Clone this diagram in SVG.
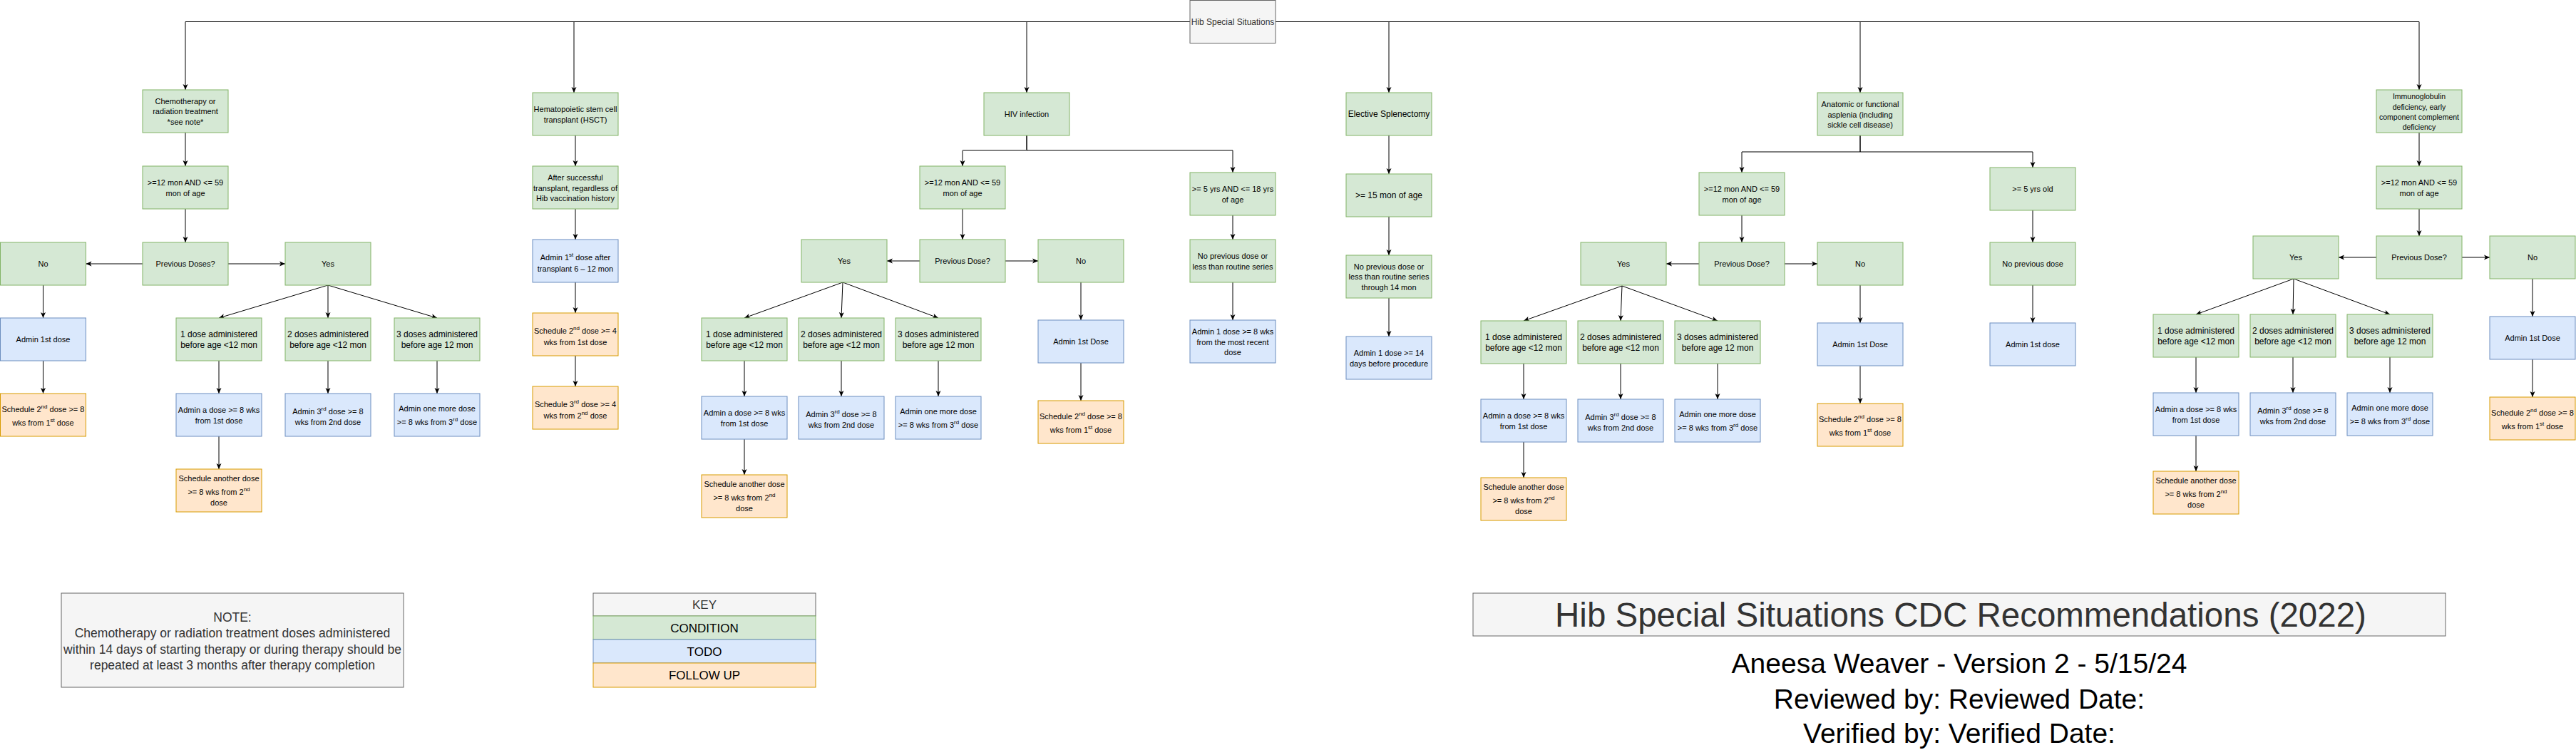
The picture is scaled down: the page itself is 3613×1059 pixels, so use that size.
<svg xmlns="http://www.w3.org/2000/svg" width="3613" height="1059" viewBox="0 0 3613 1059">
<style>
rect{stroke-width:1}
.g{fill:#d5e8d4;stroke:#82b366}
.b{fill:#dae8fc;stroke:#6c8ebf}
.o{fill:#ffe6cc;stroke:#d79b00}
.n{fill:#f5f5f5;stroke:#666666}
text{font-family:"Liberation Sans",Arial,sans-serif;text-anchor:middle;fill:#000}
.f10{font-size:10.5px}.f11{font-size:11px}.f12{font-size:12px}
.gr{fill:#333333}
.sp{font-size:8px}
.e{fill:none;stroke:#000;stroke-width:1;marker-end:url(#a)}
</style>
<defs>
<marker id="a" viewBox="0 0 8 8" refX="8" refY="4" markerWidth="8" markerHeight="8" orient="auto" markerUnits="userSpaceOnUse"><path d="M0,0.5 L8,4 L0,7.5 L2,4 z" fill="#000"/></marker>
</defs>
<rect width="3613" height="1059" fill="#ffffff"/>

<g id="connectors">
<path class="e" d="M1669,30.5 H260 V126"/>
<path class="e" d="M1669,30.5 H805 V130"/>
<path class="e" d="M1669,30.5 H1440 V130"/>
<path class="e" d="M1789,30.5 H1948 V130"/>
<path class="e" d="M1789,30.5 H2609 V130"/>
<path class="e" d="M1789,30.5 H3393 V126"/>
<path class="e" d="M260,186 V233"/>
<path class="e" d="M260,293 V340"/>
<path class="e" d="M200,370 H120.5"/>
<path class="e" d="M320,370 H400"/>
<path class="e" d="M60.5,400 V446"/>
<path class="e" d="M60.5,506 V552"/>
<path class="e" d="M460,400 L307,446"/>
<path class="e" d="M460,400 V446"/>
<path class="e" d="M460,400 L613,446"/>
<path class="e" d="M307,506 V552"/>
<path class="e" d="M460,506 V552"/>
<path class="e" d="M613,506 V552"/>
<path class="e" d="M307,612 V658"/>
<path class="e" d="M807,190 V233"/>
<path class="e" d="M807,293 V336"/>
<path class="e" d="M807,396 V439"/>
<path class="e" d="M807,499 V542"/>
<path class="e" d="M1440,190 V211 H1350 V233"/>
<path class="e" d="M1440,190 V211 H1729 V242"/>
<path d="M1350,211 H1440" fill="none" stroke="#808080" stroke-width="2"/>
<path class="e" d="M1350,293 V336"/>
<path class="e" d="M1290,366 H1244"/>
<path class="e" d="M1410,366 H1456"/>
<path class="e" d="M1182,396 L1044,446"/>
<path class="e" d="M1182,396 L1180,446"/>
<path class="e" d="M1182,396 L1316,446"/>
<path class="e" d="M1044,506 V556"/>
<path class="e" d="M1180,506 V556"/>
<path class="e" d="M1316,506 V556"/>
<path class="e" d="M1044,616 V666"/>
<path class="e" d="M1516,396 V449"/>
<path class="e" d="M1516,509 V562"/>
<path class="e" d="M1729,302 V336"/>
<path class="e" d="M1729,396 V449"/>
<path class="e" d="M1948,190 V244"/>
<path class="e" d="M1948,304 V358"/>
<path class="e" d="M1948,418 V472"/>
<path class="e" d="M2609,190 V213 H2443 V242"/>
<path class="e" d="M2609,190 V213 H2851 V235"/>
<path class="e" d="M2443,302 V340"/>
<path class="e" d="M2383,370 H2337"/>
<path class="e" d="M2503,370 H2549"/>
<path class="e" d="M2275,401 L2137,450"/>
<path class="e" d="M2275,401 L2273,450"/>
<path class="e" d="M2275,401 L2409,450"/>
<path class="e" d="M2137,510 V560"/>
<path class="e" d="M2273,510 V560"/>
<path class="e" d="M2409,510 V560"/>
<path class="e" d="M2137,620 V670"/>
<path class="e" d="M2609,400 V453"/>
<path class="e" d="M2609,513 V566"/>
<path class="e" d="M2851,295 V340"/>
<path class="e" d="M2851,400 V453"/>
<path class="e" d="M3393,186 V233"/>
<path class="e" d="M3393,293 V331"/>
<path class="e" d="M3333,361 H3280"/>
<path class="e" d="M3453,361 H3492"/>
<path class="e" d="M3217,391 L3080,441"/>
<path class="e" d="M3217,391 L3216,441"/>
<path class="e" d="M3217,391 L3352,441"/>
<path class="e" d="M3080,501 V551"/>
<path class="e" d="M3216,501 V551"/>
<path class="e" d="M3352,501 V551"/>
<path class="e" d="M3080,611 V661"/>
<path class="e" d="M3552,391 V444"/>
<path class="e" d="M3552,504 V557"/>
</g>

<g id="root"><rect class="n" x="1669" y="0.5" width="120" height="60"/><text class="f12 gr" x="1729" y="34.5">Hib Special Situations</text></g>

<!-- Branch 1: Chemotherapy -->
<g id="chemo"><rect class="g" x="200" y="126" width="120" height="60"/><text class="f11"><tspan x="260" y="145.5">Chemotherapy or</tspan><tspan x="260" y="160">radiation treatment</tspan><tspan x="260" y="174.5">*see note*</tspan></text></g>
<g id="chemo-age"><rect class="g" x="200" y="233" width="120" height="60"/><text class="f11"><tspan x="260" y="259.5">&gt;=12 mon AND &lt;= 59</tspan><tspan x="260" y="274.5">mon of age</tspan></text></g>
<g id="chemo-prev"><rect class="g" x="200" y="340" width="120" height="60"/><text class="f11" x="260" y="374">Previous Doses?</text></g>
<g id="chemo-no"><rect class="g" x="0.5" y="340" width="120" height="60"/><text class="f11" x="60.5" y="374">No</text></g>
<g id="chemo-yes"><rect class="g" x="400" y="340" width="120" height="60"/><text class="f11" x="460" y="374">Yes</text></g>
<g id="chemo-admin1"><rect class="b" x="0.5" y="446" width="120" height="60"/><text class="f11" x="60.5" y="480">Admin 1st dose</text></g>
<g id="chemo-sched2"><rect class="o" x="0.5" y="552" width="120" height="60"/><text class="f11"><tspan x="60.5" y="578">Schedule 2<tspan class="sp" dy="-5">nd</tspan><tspan dy="5"> dose &gt;= 8</tspan></tspan><tspan x="60.5" y="597">wks from 1<tspan class="sp" dy="-5">st</tspan><tspan dy="5">  dose</tspan></tspan></text></g>
<g id="chemo-d1"><rect class="g" x="247" y="446" width="120" height="60"/><text class="f12"><tspan x="307" y="472.5">1 dose administered</tspan><tspan x="307" y="487.5">before age &lt;12 mon</tspan></text></g>
<g id="chemo-d2"><rect class="g" x="400" y="446" width="120" height="60"/><text class="f12"><tspan x="460" y="472.5">2 doses administered</tspan><tspan x="460" y="487.5">before age &lt;12 mon</tspan></text></g>
<g id="chemo-d3"><rect class="g" x="553" y="446" width="120" height="60"/><text class="f12"><tspan x="613" y="472.5">3 doses administered</tspan><tspan x="613" y="487.5">before age 12 mon</tspan></text></g>
<g id="chemo-a1"><rect class="b" x="247" y="552" width="120" height="60"/><text class="f11"><tspan x="307" y="578.5">Admin a dose &gt;= 8 wks</tspan><tspan x="307" y="593.5">from 1st dose</tspan></text></g>
<g id="chemo-a2"><rect class="b" x="400" y="552" width="120" height="60"/><text class="f11"><tspan x="460" y="581">Admin 3<tspan class="sp" dy="-5">rd</tspan><tspan dy="5">  dose &gt;= 8</tspan></tspan><tspan x="460" y="596">wks from 2nd dose</tspan></text></g>
<g id="chemo-a3"><rect class="b" x="553" y="552" width="120" height="60"/><text class="f11"><tspan x="613" y="577">Admin one more dose</tspan><tspan x="613" y="596">&gt;= 8 wks from 3<tspan class="sp" dy="-5">rd</tspan><tspan dy="5"> dose</tspan></tspan></text></g>
<g id="chemo-s1"><rect class="o" x="247" y="658" width="120" height="60"/><text class="f11"><tspan x="307" y="675">Schedule another dose</tspan><tspan x="307" y="694">&gt;= 8 wks from 2<tspan class="sp" dy="-5">nd</tspan></tspan><tspan x="307" y="709">dose</tspan></text></g>

<!-- Branch 2: HSCT -->
<g id="hsct"><rect class="g" x="747" y="130" width="120" height="60"/><text class="f11"><tspan x="807" y="156.5">Hematopoietic stem cell</tspan><tspan x="807" y="171.5">transplant (HSCT)</tspan></text></g>
<g id="hsct-after"><rect class="g" x="747" y="233" width="120" height="60"/><text class="f11"><tspan x="807" y="253">After successful</tspan><tspan x="807" y="267.5">transplant, regardless of</tspan><tspan x="807" y="282">Hib vaccination history</tspan></text></g>
<g id="hsct-admin"><rect class="b" x="747" y="336" width="120" height="60"/><text class="f11"><tspan x="807" y="365">Admin 1<tspan class="sp" dy="-5">st</tspan><tspan dy="5"> dose after</tspan></tspan><tspan x="807" y="380.5">transplant 6 – 12 mon</tspan></text></g>
<g id="hsct-sched2"><rect class="o" x="747" y="439" width="120" height="60"/><text class="f11"><tspan x="807" y="468">Schedule 2<tspan class="sp" dy="-5">nd</tspan><tspan dy="5"> dose &gt;= 4</tspan></tspan><tspan x="807" y="483.5">wks from 1st dose</tspan></text></g>
<g id="hsct-sched3"><rect class="o" x="747" y="542" width="120" height="60"/><text class="f11"><tspan x="807" y="571">Schedule 3<tspan class="sp" dy="-5">rd</tspan><tspan dy="5"> dose &gt;= 4</tspan></tspan><tspan x="807" y="586.5">wks from 2<tspan class="sp" dy="-5">nd</tspan><tspan dy="5"> dose</tspan></tspan></text></g>

<!-- Branch 3: HIV -->
<g id="hiv"><rect class="g" x="1380" y="130" width="120" height="60"/><text class="f11" x="1440" y="164">HIV infection</text></g>
<g id="hiv-age"><rect class="g" x="1290" y="233" width="120" height="60"/><text class="f11"><tspan x="1350" y="259.5">&gt;=12 mon AND &lt;= 59</tspan><tspan x="1350" y="274.5">mon of age</tspan></text></g>
<g id="hiv-prev"><rect class="g" x="1290" y="336" width="120" height="60"/><text class="f11" x="1350" y="370">Previous Dose?</text></g>
<g id="hiv-yes"><rect class="g" x="1124" y="336" width="120" height="60"/><text class="f11" x="1184" y="370">Yes</text></g>
<g id="hiv-no"><rect class="g" x="1456" y="336" width="120" height="60"/><text class="f11" x="1516" y="370">No</text></g>
<g id="hiv-d1"><rect class="g" x="984" y="446" width="120" height="60"/><text class="f12"><tspan x="1044" y="472.5">1 dose administered</tspan><tspan x="1044" y="487.5">before age &lt;12 mon</tspan></text></g>
<g id="hiv-d2"><rect class="g" x="1120" y="446" width="120" height="60"/><text class="f12"><tspan x="1180" y="472.5">2 doses administered</tspan><tspan x="1180" y="487.5">before age &lt;12 mon</tspan></text></g>
<g id="hiv-d3"><rect class="g" x="1256" y="446" width="120" height="60"/><text class="f12"><tspan x="1316" y="472.5">3 doses administered</tspan><tspan x="1316" y="487.5">before age 12 mon</tspan></text></g>
<g id="hiv-a1"><rect class="b" x="984" y="556" width="120" height="60"/><text class="f11"><tspan x="1044" y="582.5">Admin a dose &gt;= 8 wks</tspan><tspan x="1044" y="597.5">from 1st dose</tspan></text></g>
<g id="hiv-a2"><rect class="b" x="1120" y="556" width="120" height="60"/><text class="f11"><tspan x="1180" y="585">Admin 3<tspan class="sp" dy="-5">rd</tspan><tspan dy="5">  dose &gt;= 8</tspan></tspan><tspan x="1180" y="600">wks from 2nd dose</tspan></text></g>
<g id="hiv-a3"><rect class="b" x="1256" y="556" width="120" height="60"/><text class="f11"><tspan x="1316" y="581">Admin one more dose</tspan><tspan x="1316" y="600">&gt;= 8 wks from 3<tspan class="sp" dy="-5">rd</tspan><tspan dy="5"> dose</tspan></tspan></text></g>
<g id="hiv-s1"><rect class="o" x="984" y="666" width="120" height="60"/><text class="f11"><tspan x="1044" y="683">Schedule another dose</tspan><tspan x="1044" y="702">&gt;= 8 wks from 2<tspan class="sp" dy="-5">nd</tspan></tspan><tspan x="1044" y="717">dose</tspan></text></g>
<g id="hiv-admin1"><rect class="b" x="1456" y="449" width="120" height="60"/><text class="f11" x="1516" y="483">Admin 1st Dose</text></g>
<g id="hiv-sched2"><rect class="o" x="1456" y="562" width="120" height="60"/><text class="f11"><tspan x="1516" y="588">Schedule 2<tspan class="sp" dy="-5">nd</tspan><tspan dy="5"> dose &gt;= 8</tspan></tspan><tspan x="1516" y="607">wks from 1<tspan class="sp" dy="-5">st</tspan><tspan dy="5">  dose</tspan></tspan></text></g>
<g id="hiv-age5"><rect class="g" x="1669" y="242" width="120" height="60"/><text class="f11"><tspan x="1729" y="268.5">&gt;= 5 yrs AND &lt;= 18 yrs</tspan><tspan x="1729" y="283.5">of age</tspan></text></g>
<g id="hiv-noprev"><rect class="g" x="1669" y="336" width="120" height="60"/><text class="f11"><tspan x="1729" y="362.5">No previous dose or</tspan><tspan x="1729" y="377.5">less than routine series</tspan></text></g>
<g id="hiv-admin5"><rect class="b" x="1669" y="449" width="120" height="60"/><text class="f11"><tspan x="1729" y="469">Admin 1 dose &gt;= 8 wks</tspan><tspan x="1729" y="483.5">from the most recent</tspan><tspan x="1729" y="498">dose</tspan></text></g>

<!-- Branch 4: Elective Splenectomy -->
<g id="elective"><rect class="g" x="1888" y="130" width="120" height="60"/><text class="f12" x="1948" y="164">Elective Splenectomy</text></g>
<g id="elective-age"><rect class="g" x="1888" y="244" width="120" height="60"/><text class="f12" x="1948" y="278">&gt;= 15 mon of age</text></g>
<g id="elective-noprev"><rect class="g" x="1888" y="358" width="120" height="60"/><text class="f11"><tspan x="1948" y="377.5">No previous dose or</tspan><tspan x="1948" y="392">less than routine series</tspan><tspan x="1948" y="406.5">through 14 mon</tspan></text></g>
<g id="elective-admin"><rect class="b" x="1888" y="472" width="120" height="60"/><text class="f11"><tspan x="1948" y="498.5">Admin 1 dose &gt;= 14</tspan><tspan x="1948" y="513.5">days before procedure</tspan></text></g>

<!-- Branch 5: Asplenia -->
<g id="asplenia"><rect class="g" x="2549" y="130" width="120" height="60"/><text class="f11"><tspan x="2609" y="150">Anatomic or functional</tspan><tspan x="2609" y="164.5">asplenia (including</tspan><tspan x="2609" y="179">sickle cell disease)</tspan></text></g>
<g id="asp-age"><rect class="g" x="2383" y="242" width="120" height="60"/><text class="f11"><tspan x="2443" y="268.5">&gt;=12 mon AND &lt;= 59</tspan><tspan x="2443" y="283.5">mon of age</tspan></text></g>
<g id="asp-prev"><rect class="g" x="2383" y="340" width="120" height="60"/><text class="f11" x="2443" y="374">Previous Dose?</text></g>
<g id="asp-yes"><rect class="g" x="2217" y="340" width="120" height="60"/><text class="f11" x="2277" y="374">Yes</text></g>
<g id="asp-no"><rect class="g" x="2549" y="340" width="120" height="60"/><text class="f11" x="2609" y="374">No</text></g>
<g id="asp-d1"><rect class="g" x="2077" y="450" width="120" height="60"/><text class="f12"><tspan x="2137" y="476.5">1 dose administered</tspan><tspan x="2137" y="491.5">before age &lt;12 mon</tspan></text></g>
<g id="asp-d2"><rect class="g" x="2213" y="450" width="120" height="60"/><text class="f12"><tspan x="2273" y="476.5">2 doses administered</tspan><tspan x="2273" y="491.5">before age &lt;12 mon</tspan></text></g>
<g id="asp-d3"><rect class="g" x="2349" y="450" width="120" height="60"/><text class="f12"><tspan x="2409" y="476.5">3 doses administered</tspan><tspan x="2409" y="491.5">before age 12 mon</tspan></text></g>
<g id="asp-a1"><rect class="b" x="2077" y="560" width="120" height="60"/><text class="f11"><tspan x="2137" y="586.5">Admin a dose &gt;= 8 wks</tspan><tspan x="2137" y="601.5">from 1st dose</tspan></text></g>
<g id="asp-a2"><rect class="b" x="2213" y="560" width="120" height="60"/><text class="f11"><tspan x="2273" y="589">Admin 3<tspan class="sp" dy="-5">rd</tspan><tspan dy="5">  dose &gt;= 8</tspan></tspan><tspan x="2273" y="604">wks from 2nd dose</tspan></text></g>
<g id="asp-a3"><rect class="b" x="2349" y="560" width="120" height="60"/><text class="f11"><tspan x="2409" y="585">Admin one more dose</tspan><tspan x="2409" y="604">&gt;= 8 wks from 3<tspan class="sp" dy="-5">rd</tspan><tspan dy="5"> dose</tspan></tspan></text></g>
<g id="asp-s1"><rect class="o" x="2077" y="670" width="120" height="60"/><text class="f11"><tspan x="2137" y="687">Schedule another dose</tspan><tspan x="2137" y="706">&gt;= 8 wks from 2<tspan class="sp" dy="-5">nd</tspan></tspan><tspan x="2137" y="721">dose</tspan></text></g>
<g id="asp-admin1"><rect class="b" x="2549" y="453" width="120" height="60"/><text class="f11" x="2609" y="487">Admin 1st Dose</text></g>
<g id="asp-sched2"><rect class="o" x="2549" y="566" width="120" height="60"/><text class="f11"><tspan x="2609" y="592">Schedule 2<tspan class="sp" dy="-5">nd</tspan><tspan dy="5"> dose &gt;= 8</tspan></tspan><tspan x="2609" y="611">wks from 1<tspan class="sp" dy="-5">st</tspan><tspan dy="5">  dose</tspan></tspan></text></g>
<g id="asp-age5"><rect class="g" x="2791" y="235" width="120" height="60"/><text class="f11" x="2851" y="269">&gt;= 5 yrs old</text></g>
<g id="asp-noprev"><rect class="g" x="2791" y="340" width="120" height="60"/><text class="f11" x="2851" y="374">No previous dose</text></g>
<g id="asp-admin5"><rect class="b" x="2791" y="453" width="120" height="60"/><text class="f11" x="2851" y="487">Admin 1st dose</text></g>

<!-- Branch 6: Immunoglobulin -->
<g id="immuno"><rect class="g" x="3333" y="126" width="120" height="60"/><text class="f10"><tspan x="3393" y="139">Immunoglobulin</tspan><tspan x="3393" y="153.5">deficiency, early</tspan><tspan x="3393" y="168">component complement</tspan><tspan x="3393" y="182">deficiency</tspan></text></g>
<g id="imm-age"><rect class="g" x="3333" y="233" width="120" height="60"/><text class="f11"><tspan x="3393" y="259.5">&gt;=12 mon AND &lt;= 59</tspan><tspan x="3393" y="274.5">mon of age</tspan></text></g>
<g id="imm-prev"><rect class="g" x="3333" y="331" width="120" height="60"/><text class="f11" x="3393" y="365">Previous Dose?</text></g>
<g id="imm-yes"><rect class="g" x="3160" y="331" width="120" height="60"/><text class="f11" x="3220" y="365">Yes</text></g>
<g id="imm-no"><rect class="g" x="3492" y="331" width="120" height="60"/><text class="f11" x="3552" y="365">No</text></g>
<g id="imm-d1"><rect class="g" x="3020" y="441" width="120" height="60"/><text class="f12"><tspan x="3080" y="467.5">1 dose administered</tspan><tspan x="3080" y="482.5">before age &lt;12 mon</tspan></text></g>
<g id="imm-d2"><rect class="g" x="3156" y="441" width="120" height="60"/><text class="f12"><tspan x="3216" y="467.5">2 doses administered</tspan><tspan x="3216" y="482.5">before age &lt;12 mon</tspan></text></g>
<g id="imm-d3"><rect class="g" x="3292" y="441" width="120" height="60"/><text class="f12"><tspan x="3352" y="467.5">3 doses administered</tspan><tspan x="3352" y="482.5">before age 12 mon</tspan></text></g>
<g id="imm-a1"><rect class="b" x="3020" y="551" width="120" height="60"/><text class="f11"><tspan x="3080" y="577.5">Admin a dose &gt;= 8 wks</tspan><tspan x="3080" y="592.5">from 1st dose</tspan></text></g>
<g id="imm-a2"><rect class="b" x="3156" y="551" width="120" height="60"/><text class="f11"><tspan x="3216" y="580">Admin 3<tspan class="sp" dy="-5">rd</tspan><tspan dy="5">  dose &gt;= 8</tspan></tspan><tspan x="3216" y="595">wks from 2nd dose</tspan></text></g>
<g id="imm-a3"><rect class="b" x="3292" y="551" width="120" height="60"/><text class="f11"><tspan x="3352" y="576">Admin one more dose</tspan><tspan x="3352" y="595">&gt;= 8 wks from 3<tspan class="sp" dy="-5">rd</tspan><tspan dy="5"> dose</tspan></tspan></text></g>
<g id="imm-s1"><rect class="o" x="3020" y="661" width="120" height="60"/><text class="f11"><tspan x="3080" y="678">Schedule another dose</tspan><tspan x="3080" y="697">&gt;= 8 wks from 2<tspan class="sp" dy="-5">nd</tspan></tspan><tspan x="3080" y="712">dose</tspan></text></g>
<g id="imm-admin1"><rect class="b" x="3492" y="444" width="120" height="60"/><text class="f11" x="3552" y="478">Admin 1st Dose</text></g>
<g id="imm-sched2"><rect class="o" x="3492" y="557" width="120" height="60"/><text class="f11"><tspan x="3552" y="583">Schedule 2<tspan class="sp" dy="-5">nd</tspan><tspan dy="5"> dose &gt;= 8</tspan></tspan><tspan x="3552" y="602">wks from 1<tspan class="sp" dy="-5">st</tspan><tspan dy="5">  dose</tspan></tspan></text></g>

<!-- Footer -->
<g id="note"><rect class="n" x="86" y="832" width="480" height="132"/><text class="gr" style="font-size:17.5px"><tspan x="326" y="872">NOTE:</tspan><tspan x="326" y="894">Chemotherapy or radiation treatment doses administered</tspan><tspan x="326" y="917">within 14 days of starting therapy or during therapy should be</tspan><tspan x="326" y="939">repeated at least 3 months after therapy completion</tspan></text></g>
<g id="key" style="font-size:17px">
<rect class="n" x="832" y="832" width="312" height="32"/><text class="gr" x="988" y="854">KEY</text>
<rect class="g" x="832" y="864" width="312" height="33"/><text x="988" y="887">CONDITION</text>
<rect class="b" x="832" y="897" width="312" height="33"/><text x="988" y="920">TODO</text>
<rect class="o" x="832" y="930" width="312" height="34"/><text x="988" y="953">FOLLOW UP</text>
</g>
<g id="title"><rect class="n" x="2066" y="832" width="1364" height="60"/><text class="gr" x="2750" y="879" style="font-size:47.5px">Hib Special Situations CDC Recommendations (2022)</text></g>
<g id="credits" style="font-size:39px">
<text x="2748" y="944">Aneesa Weaver - Version 2 - 5/15/24</text>
<text x="2748" y="994">Reviewed by: Reviewed Date:</text>
<text x="2748" y="1042">Verified by: Verified Date:</text>
</g>
</svg>
